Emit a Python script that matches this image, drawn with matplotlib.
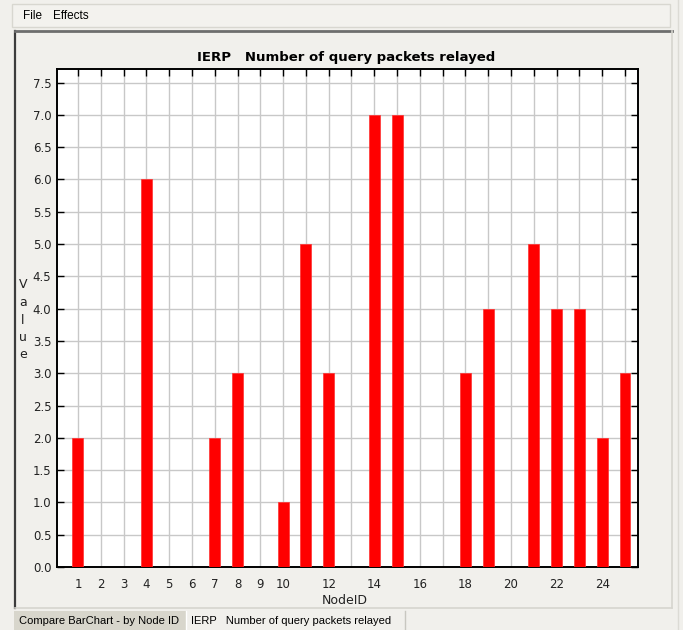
"""
plot.py
Bar chart IERP - number of query packets relayed per node, drawn inside a
mock of the app window (menu bar + tabs).
"""
import matplotlib
matplotlib.use('Agg')
import matplotlib.pyplot as plt
from matplotlib.patches import Rectangle
from matplotlib.lines import Line2D

node_ids = list(range(1, 26))
relayed = [2, 0, 0, 6, 0, 0, 2, 3, 0, 1, 5, 3, 0, 7, 7, 0, 0, 3, 4, 0, 5, 4, 4, 2, 3]
labeled_nodes = [1, 2, 3, 4, 5, 6, 7, 8, 9, 10, 12, 14, 16, 18, 20, 22, 24]
y_ticks = [0.0, 0.5, 1.0, 1.5, 2.0, 2.5, 3.0, 3.5, 4.0, 4.5, 5.0, 5.5, 6.0, 6.5, 7.0, 7.5]

title = "IERP   Number of query packets relayed"
tab_labels = ["Compare BarChart - by Node ID", "IERP   Number of query packets relayed"]

W, H = 683, 630
bg = '#f1f0ec'

fig = plt.figure(figsize=(W / 100, H / 100), dpi=100, facecolor=bg)

def px(x, y):
    # pixel (top-left origin) -> figure fraction
    return x / W, 1 - y / H

def rect(x0, y0, x1, y1, **kw):
    fig.add_artist(Rectangle((x0 / W, 1 - y1 / H), (x1 - x0) / W, (y1 - y0) / H,
                             transform=fig.transFigure, **kw))

def hline(x0, x1, y, **kw):
    fig.add_artist(Line2D([x0 / W, x1 / W], [1 - y / H, 1 - y / H], transform=fig.transFigure, **kw))

def vline(x, y0, y1, **kw):
    fig.add_artist(Line2D([x / W, x / W], [1 - y0 / H, 1 - y1 / H], transform=fig.transFigure, **kw))

# menu bar
rect(12, 4, 670, 27, facecolor='#f3f2ee', edgecolor='#d8d7d0', lw=1)
fig.text(*px(23, 16), "File", fontsize=8.5, va='center', ha='left', color='black',
         family='Liberation Sans')
fig.text(*px(53, 16), "Effects", fontsize=8.5, va='center', ha='left', color='black',
         family='Liberation Sans')

# chart panel borders
vline(15, 31, 608, color='#3c3c3c', lw=1.6)
hline(15, 672, 31, color='#6e6e6e', lw=2)
vline(672, 31, 608, color='#d6d5cf', lw=1.2)
hline(15, 672, 608, color='#d6d5cf', lw=1.2)
vline(678, 0, 630, color='#dcdbd5', lw=1)

# tabs
rect(14, 611, 186, 630, facecolor='#d8d6cc', edgecolor='none')
vline(186, 611, 630, color='#ffffff', lw=1)
vline(405, 611, 630, color='#c8c7c0', lw=1)
fig.text(*px(19, 621), tab_labels[0], fontsize=8, va='center', ha='left',
         family='Liberation Sans')
fig.text(*px(191, 621), tab_labels[1], fontsize=8, va='center', ha='left',
         family='Liberation Sans')

# plot area
ax = fig.add_axes([57 / W, 1 - 567 / H, (638 - 57) / W, (567 - 69) / H])
ax.set_facecolor('white')
ax.bar(node_ids, relayed, width=0.48, color='#ff0000', edgecolor='#ff3030', lw=0.5, zorder=3)

ax.set_xlim(0.08, 25.57)
ax.set_ylim(0, 7.71)
ax.set_xticks(node_ids)
ax.set_xticklabels([str(n) if n in labeled_nodes else '' for n in node_ids])
ax.set_yticks(y_ticks)
ax.set_yticklabels([f"{v:.1f}" for v in y_ticks])
ax.grid(True, color='#c8c8c8', lw=1.0, zorder=0)
ax.set_axisbelow(True)

ax.tick_params(axis='x', which='both', bottom=False, top=True, direction='in',
               length=5, width=1, labelsize=8.5, pad=8, colors='black')
ax.tick_params(axis='y', which='both', left=True, right=True, direction='in',
               length=5, width=1, labelsize=8.5, pad=4, colors='black')
for lab in ax.get_xticklabels() + ax.get_yticklabels():
    lab.set_color('#222222')
for s in ax.spines.values():
    s.set_linewidth(1.4)
    s.set_color('black')

fig.text(*px(346, 58), title, fontsize=9.5, fontweight='bold', ha='center', va='center')
fig.text(*px(345, 600), "NodeID", fontsize=9, ha='center', va='center', color='#222222')
fig.text(*px(23, 320), "V\na\nl\nu\ne", fontsize=9, ha='center', va='center',
         linespacing=1.45, color='#222222')

plt.savefig("out.png", dpi=100, facecolor=bg)
